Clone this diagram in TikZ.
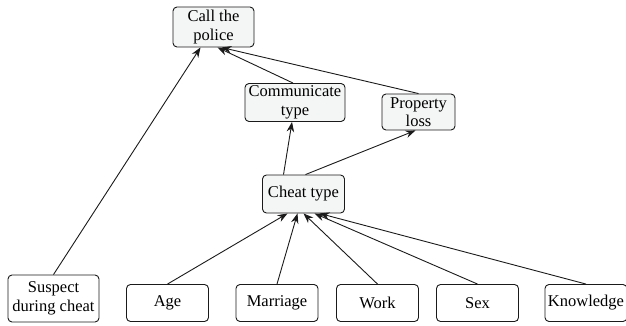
\documentclass[tikz,border=0pt]{standalone}
\usepackage{fontspec}
\setmainfont{Liberation Serif}
\usetikzlibrary{arrows.meta, positioning}
\definecolor{boxfill}{HTML}{F4F5F5}
\definecolor{boxline}{HTML}{1A1A1A}
\begin{document}
\begin{tikzpicture}[
    x=1pt, y=-1pt,
    >={Stealth[length=10pt, width=7.5pt]},
    var/.style={draw=boxline, line width=0.9pt, rounded corners=4pt, align=center,
      inner sep=1pt, font=\fontsize{16.5}{18.5}\selectfont},
    mid/.style={var, fill=boxfill},
    leaf/.style={var, fill=white, minimum width=82pt, minimum height=37pt},
    link/.style={->, line width=0.9pt, boxline}]
  \useasboundingbox (0,0) rectangle (626,326);

  % Upper levels of the network.
  \node[mid, minimum width=81pt, minimum height=40pt] (police) at (213.5,27) {Call the\\police};
  \node[mid, minimum width=100pt, minimum height=38pt] (comm) at (295,102.5) {Communicate\\type};
  \node[mid, minimum width=73pt, minimum height=36pt] (loss) at (418.5,112) {Property\\loss};
  \node[mid, minimum width=82pt, minimum height=38pt] (cheat) at (303.5,194) {Cheat type};

  % The observed variables along the bottom.
  \node[leaf, minimum width=91pt, minimum height=47pt] (suspect) at (53.5,298.5) {Suspect\\during cheat};
  \node[leaf] (age) at (167.5,303) {Age};
  \node[leaf] (marriage) at (277,303) {Marriage};
  \node[leaf] (work) at (377.5,303) {Work};
  \node[leaf] (sex) at (477.5,303) {Sex};
  \node[leaf] (knowledge) at (586,303) {Knowledge};

  % Everything feeding the cheat type.
  \foreach \n/\d in {age/-16, marriage/-6, work/0, sex/11, knowledge/16}
    \draw[link] (\n.north) -- ([xshift=\d pt]cheat.south);

  \draw[link] ([xshift=-20pt]cheat.north) -- ([xshift=-3pt]comm.south);
  \draw[link] ([xshift=2pt]cheat.north) -- ([xshift=-3pt]loss.south);

  % Into the top node.
  \draw[link] (suspect.north) -- ([xshift=-13pt]police.south);
  \draw[link] ([xshift=-2pt]comm.north) -- ([xshift=4pt]police.south);
  \draw[link] (loss.north) -- ([xshift=8pt]police.south);
\end{tikzpicture}
\end{document}
